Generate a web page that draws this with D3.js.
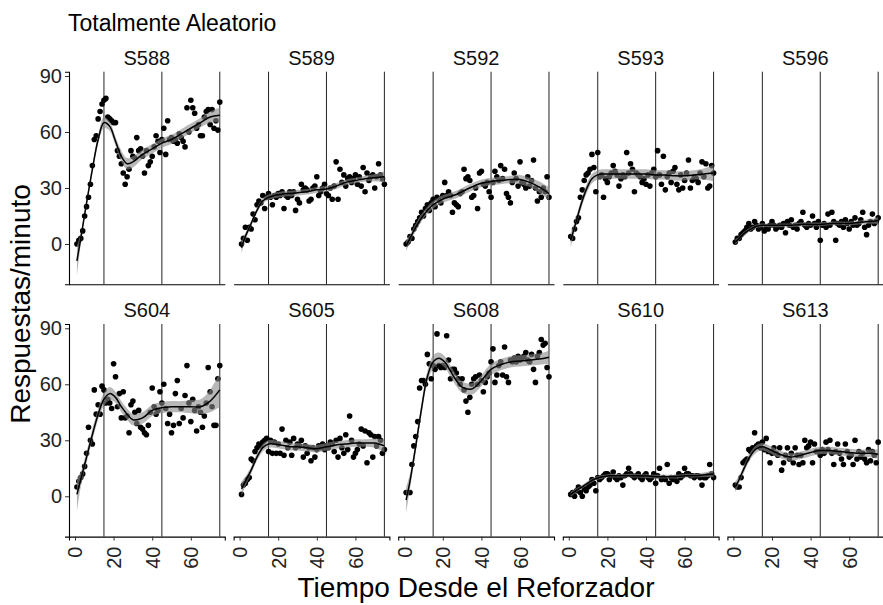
<!DOCTYPE html>
<html>
<head>
<meta charset="utf-8">
<script src="https://cdn.jsdelivr.net/npm/d3@7"></script>
<style>
body { margin: 0; background: #fff; }
text { font-family: "Liberation Sans", Arial, sans-serif; }
</style>
</head>
<body>
<svg id="chart" width="883" height="605"></svg>
<script>
var subjects = ["S588", "S589", "S592", "S593", "S596", "S604", "S605", "S608", "S610", "S613"];
var seconds = d3.range(1, 76); // one bin per second since reinforcer
var phaseLines = [15, 45, 75];
var xTicks = [0, 20, 40, 60];
var yTicks = [0, 30, 60, 90];
var smoothX = [1, 3, 6, 9, 12, 15, 18, 21, 24, 27, 30, 35, 40, 45, 50, 55, 60, 65, 70, 75];

// responses/minute, seconds 1..75
var s588 = [0, 2, 3, 7, 15, 20, 25, 32, 42, 56, 58, 67, 71, 75, 77, 78, 68, 67, 66, 65, 65, 50, 47, 43, 38, 32, 36, 40, 50, 47, 46, 57, 50, 51, 47, 38, 50, 42, 44, 47, 52, 58, 55, 49, 56, 62, 48, 66, 56, 57, 55, 56, 54, 59, 57, 55, 52, 73, 60, 77, 73, 70, 62, 64, 58, 58, 68, 71, 72, 64, 72, 62, 66, 61, 76];
var s589 = [0, 3, 9, 2, 9, 8, 16, 13, 21, 23, 22, 26, 19, 25, 27, 25, 21, 26, 25, 27, 26, 28, 19, 26, 25, 28, 26, 28, 18, 24, 22, 32, 29, 30, 29, 23, 24, 30, 31, 36, 26, 28, 30, 32, 27, 26, 30, 24, 31, 44, 24, 40, 33, 37, 31, 35, 36, 33, 35, 37, 32, 36, 31, 41, 28, 38, 34, 36, 37, 30, 36, 43, 37, 35, 32];
var s592 = [0, 1, 4, 3, 8, 10, 12, 14, 17, 15, 19, 21, 18, 22, 24, 20, 25, 24, 22, 26, 33, 26, 28, 26, 17, 22, 21, 20, 27, 28, 40, 35, 36, 34, 25, 26, 30, 19, 38, 39, 32, 31, 33, 28, 25, 33, 39, 36, 34, 42, 35, 40, 27, 25, 22, 33, 38, 35, 31, 44, 33, 32, 30, 36, 31, 34, 45, 30, 23, 28, 25, 30, 28, 36, 25];
var s593 = [4, 3, 8, 12, 14, 25, 29, 34, 37, 38, 40, 48, 41, 28, 49, 36, 37, 25, 35, 33, 36, 38, 42, 39, 37, 31, 35, 37, 36, 49, 38, 43, 40, 28, 38, 37, 36, 33, 35, 32, 37, 31, 38, 40, 36, 50, 37, 32, 47, 29, 36, 38, 33, 39, 41, 32, 29, 37, 30, 34, 38, 45, 30, 34, 36, 35, 33, 38, 44, 36, 43, 30, 31, 42, 38];
var s596 = [1, 3, 3, 5, 6, 7, 9, 11, 8, 9, 12, 10, 8, 9, 11, 7, 9, 8, 10, 12, 10, 8, 9, 10, 9, 11, 6, 12, 10, 13, 9, 10, 8, 11, 12, 17, 10, 9, 11, 10, 15, 11, 9, 12, 2, 10, 11, 9, 16, 10, 17, 12, 2, 11, 10, 12, 9, 13, 11, 8, 12, 10, 14, 10, 11, 13, 17, 9, 5, 10, 12, 16, 11, 12, 14];
var s604 = [5, 8, 10, 12, 16, 23, 37, 30, 28, 57, 44, 49, 44, 59, 57, 50, 52, 50, 47, 71, 64, 48, 55, 42, 56, 42, 43, 34, 49, 51, 45, 39, 46, 37, 36, 34, 33, 38, 45, 58, 48, 44, 46, 56, 50, 60, 47, 39, 44, 34, 38, 55, 62, 39, 47, 42, 54, 70, 50, 40, 52, 46, 35, 48, 45, 37, 43, 50, 69, 56, 48, 38, 38, 63, 70];
var s605 = [1, 6, 7, 9, 10, 20, 19, 24, 26, 28, 27, 29, 30, 31, 24, 30, 23, 29, 23, 28, 23, 36, 22, 30, 26, 29, 22, 31, 26, 28, 27, 30, 21, 27, 23, 26, 19, 26, 21, 25, 27, 26, 28, 25, 27, 26, 29, 28, 24, 30, 21, 31, 26, 23, 33, 25, 43, 30, 21, 23, 25, 28, 36, 27, 35, 18, 34, 33, 21, 32, 27, 32, 30, 23, 25];
var s608 = [2, 2, 2, 17, 27, 32, 40, 58, 62, 62, 60, 76, 71, 63, 70, 68, 87, 70, 69, 70, 69, 86, 73, 63, 68, 68, 66, 63, 60, 63, 57, 51, 45, 53, 60, 63, 64, 60, 65, 62, 56, 61, 64, 66, 72, 79, 61, 65, 70, 72, 65, 80, 64, 61, 73, 72, 74, 72, 75, 73, 74, 75, 77, 73, 72, 76, 68, 61, 75, 77, 84, 81, 82, 69, 64];
var s610 = [1, 2, 0, 3, 5, 2, 0, 4, 3, 5, 6, 9, 7, 3, 10, 9, 10, 11, 12, 12, 9, 11, 13, 10, 9, 11, 10, 6, 11, 12, 15, 12, 11, 10, 11, 12, 10, 9, 11, 12, 10, 9, 10, 12, 7, 11, 15, 9, 10, 9, 17, 7, 10, 9, 10, 8, 12, 10, 11, 15, 12, 12, 11, 11, 10, 11, 11, 10, 6, 10, 10, 11, 17, 12, 10];
var s613 = [6, 5, 5, 10, 18, 19, 20, 25, 24, 26, 34, 27, 28, 26, 29, 25, 31, 24, 18, 23, 26, 23, 22, 26, 14, 18, 22, 26, 20, 23, 18, 26, 22, 17, 22, 18, 30, 26, 27, 29, 18, 28, 24, 24, 22, 25, 23, 29, 25, 30, 23, 17, 24, 28, 23, 20, 17, 28, 24, 21, 22, 17, 30, 20, 24, 21, 23, 20, 18, 25, 19, 24, 22, 18, 29];

// loess fit and band half-width at smoothX
var fit588 = [-9, 3, 22, 40, 56, 65, 63, 55, 47, 43, 44, 48, 51, 54, 56, 59, 62, 65, 68, 69];
var fit589 = [-2, 4, 11, 18, 23, 25, 26, 26.5, 27, 27, 27.5, 28, 29, 29.5, 31, 33, 34, 35, 35.5, 36];
var fit592 = [-1, 3, 9, 14, 18, 21, 23, 24.5, 25.5, 26.5, 28, 30.5, 32.5, 33.5, 34, 34.5, 34.5, 33, 30.5, 27];
var fit593 = [2, 9, 20, 29, 35, 37, 37.5, 37.5, 37.5, 37.5, 37.5, 37.5, 37.5, 37, 37, 36.5, 36.5, 37, 37.5, 38];
var fit596 = [1, 3, 6, 8, 9.5, 10, 10, 10, 10, 10, 10, 10.5, 10.5, 10.5, 11, 11, 11, 11.5, 12, 12.5];
var fit604 = [1, 9, 21, 33, 44, 52, 55, 53, 48, 44, 41, 42, 46, 47.5, 48, 48, 48, 48, 51, 57];
var fit605 = [4, 8, 14, 21, 26, 28, 28, 27.5, 27, 26.5, 26.5, 26, 25.5, 26.5, 27.5, 28, 28.5, 28.5, 28.5, 27];
var fit608 = [-2, 8, 27, 47, 64, 72, 74, 72, 67, 62, 58.5, 57.5, 62, 68, 70.5, 72, 72.5, 73, 73.5, 74.5];
var fit610 = [1, 2.5, 4.5, 6.5, 8.5, 9.8, 10.5, 11, 11, 11, 11, 11, 10.8, 10.5, 10.5, 10.5, 11, 11, 11.5, 12];
var fit613 = [5, 9, 16, 22, 25.5, 26.5, 25.5, 24, 22.5, 21.5, 21, 22, 23.5, 24.5, 24.5, 24, 23.5, 23, 23, 22.5];

var se588 = [8, 3, 2, 2, 2.5, 3, 2.5, 2.5, 3, 3, 3, 2.5, 2.5, 2.5, 2.5, 2.5, 2.5, 2.5, 3, 4];
var se589 = [3, 2, 1.5, 1.5, 1.5, 1.5, 1.5, 1.5, 1.5, 1.5, 1.5, 1.5, 1.5, 1.5, 1.5, 1.5, 1.5, 1.5, 2, 3];
var se592 = [3, 2, 2, 2, 2, 2, 2, 2, 2, 2, 2, 2, 2, 2, 2, 2, 2.5, 2.5, 3, 3.5];
var se593 = [4, 2.5, 2.5, 2.5, 2.5, 2.5, 2.5, 2.5, 2.5, 2.5, 2.5, 2.5, 2.5, 2.5, 2.5, 2.5, 2.5, 2.5, 3, 4.5];
var se596 = [1.5, 1, 1, 1, 1, 1, 1, 1, 1, 1, 1, 1, 1, 1, 1, 1, 1, 1, 1.2, 1.8];
var se604 = [9, 4, 3, 3, 3, 3.5, 3.5, 3, 3, 3, 3, 3, 3, 3, 3, 3, 3.5, 4, 6, 9];
var se605 = [4, 2.5, 2, 2, 2, 2, 2, 2, 2, 2, 2, 2, 2, 2, 2, 2, 2, 2, 2.5, 3.5];
var se608 = [7, 4, 3, 3, 3, 3.5, 3, 3, 3, 3, 3, 3, 3, 3, 3, 3, 3, 3, 3, 3.5];
var se610 = [1.5, 1.2, 1, 1, 1, 1, 1, 1, 1, 1, 1, 1, 1, 1, 1, 1, 1, 1, 1.2, 1.8];
var se613 = [3, 2, 2, 2, 2, 2, 2, 2, 2, 2, 2, 2, 2, 2, 2, 2, 2, 2, 2, 2.5];

var rates = [s588, s589, s592, s593, s596, s604, s605, s608, s610, s613];
var fits = [fit588, fit589, fit592, fit593, fit596, fit604, fit605, fit608, fit610, fit613];
var bands = [se588, se589, se592, se593, se596, se604, se605, se608, se610, se613];

var panels = subjects.map(function (id, i) {
    return {
        id: id, col: i % 5, row: Math.floor(i / 5),
        points: seconds.map(function (t, j) { return {t: t, v: rates[i][j]}; }),
        smooth: smoothX.map(function (t, j) { return {t: t, fit: fits[i][j], se: bands[i][j]}; })
    };
});

var layout = {left: 69, top: 71.7, panelW: 155.8, panelH: 212.6, colStep: 164.6, rowStep: 252.3};

var x = d3.scaleLinear().domain([-3.1, 77.6]).range([0, layout.panelW]);
var y = d3.scaleLinear().domain([-21.6, 92.3]).range([layout.panelH, 0]);

var svg = d3.select("#chart");

var band = d3.area()
    .x(function (d) { return x(d.t); })
    .y0(function (d) { return y(d.fit - d.se); })
    .y1(function (d) { return y(d.fit + d.se); })
    .curve(d3.curveCatmullRom);
var line = d3.line()
    .x(function (d) { return x(d.t); })
    .y(function (d) { return y(d.fit); })
    .curve(d3.curveCatmullRom);

svg.append("text")
    .attr("x", 68).attr("y", 31)
    .attr("font-size", 23).attr("fill", "#000")
    .text("Totalmente Aleatorio");

panels.forEach(function (p) {
    var g = svg.append("g")
        .attr("transform", "translate(" + (layout.left + p.col * layout.colStep) + "," + (layout.top + p.row * layout.rowStep) + ")");

    g.append("text")
        .attr("x", layout.panelW / 2).attr("y", -7)
        .attr("text-anchor", "middle")
        .attr("font-size", 20).attr("fill", "#111")
        .text(p.id);

    g.selectAll("line.phase").data(phaseLines).enter().append("line")
        .attr("class", "phase")
        .attr("x1", function (d) { return x(d); }).attr("x2", function (d) { return x(d); })
        .attr("y1", 0).attr("y2", layout.panelH)
        .attr("stroke", "#222").attr("stroke-width", 1);

    g.selectAll("circle").data(p.points).enter().append("circle")
        .attr("cx", function (d) { return x(d.t); })
        .attr("cy", function (d) { return y(d.v); })
        .attr("r", 2.8)
        .attr("fill", "#000");

    g.append("path").datum(p.smooth)
        .attr("d", band)
        .attr("fill", "#888").attr("fill-opacity", 0.6);
    g.append("path").datum(p.smooth)
        .attr("d", line)
        .attr("fill", "none").attr("stroke", "#000").attr("stroke-width", 1.5);

    // bottom axis on every panel, tick labels only on the lower row
    var xAxis = d3.axisBottom(x).tickValues(xTicks).tickSizeOuter(0)
        .tickSize(p.row === 1 ? 4 : 0);
    var xa = g.append("g")
        .attr("transform", "translate(0," + layout.panelH + ")")
        .call(xAxis);
    xa.select(".domain").attr("stroke", "#000").attr("stroke-width", 1.1);
    xa.selectAll(".tick line").attr("stroke", "#333");
    if (p.row === 1) {
        xa.selectAll(".tick text")
            .attr("font-size", 20).attr("fill", "#222")
            .attr("transform", "rotate(-90)")
            .attr("text-anchor", "end")
            .attr("x", -10).attr("y", 0).attr("dy", "0.35em");
    } else {
        xa.selectAll(".tick").remove();
    }

    if (p.col === 0) {
        var ya = g.append("g")
            .call(d3.axisLeft(y).tickValues(yTicks).tickSizeOuter(0).tickSize(4).tickPadding(3));
        ya.select(".domain").attr("stroke", "#000").attr("stroke-width", 1.1);
        ya.selectAll(".tick line").attr("stroke", "#333");
        ya.selectAll(".tick text").attr("font-size", 20).attr("fill", "#222");
    }
});

svg.append("text")
    .attr("x", 476).attr("y", 597)
    .attr("text-anchor", "middle")
    .attr("font-size", 28).attr("fill", "#000")
    .text("Tiempo Desde el Reforzador");

svg.append("text")
    .attr("transform", "translate(30,304) rotate(-90)")
    .attr("text-anchor", "middle")
    .attr("font-size", 28).attr("fill", "#000")
    .text("Respuestas/minuto");
</script>
</body>
</html>
